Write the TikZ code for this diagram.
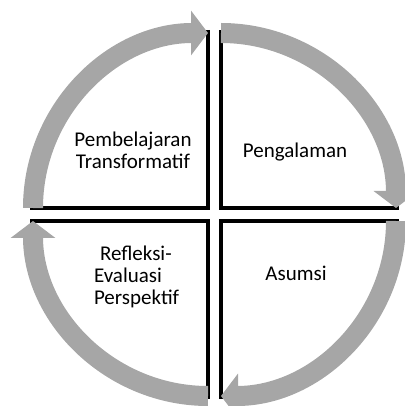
\documentclass[tikz,border=0pt]{standalone}
\usepackage{fontspec}
\setmainfont{Carlito}
\usetikzlibrary{arrows.meta, calc}
\definecolor{flowgray}{HTML}{A6A6A6}
\tikzset{
  quad/.style={line width=4pt, line join=miter, color=black},
  flow/.style={-{Triangle[length=17pt, width=44pt]}, line width=20pt, color=flowgray},
  label/.style={font=\fontsize{21}{22}\selectfont, align=center, anchor=base}
}

\begin{document}
\begin{tikzpicture}[x=1pt, y=1pt]
\useasboundingbox (-214.5,-191.5) rectangle (189.5,214.5);
\coordinate (TR) at (6.5,6.5);
\coordinate (TL) at (-6.5,6.5);
\coordinate (BL) at (-6.5,-6.5);
\coordinate (BR) at (6.5,-6.5);
% black edges of the four quarters
\draw[quad] ($(TR)+(0,178)$) -- (TR) -- ($(TR)+(178,0)$);
\draw[quad] ($(TL)+(0,178)$) -- (TL) -- ($(TL)+(-178,0)$);
\draw[quad] ($(BL)+(0,-178)$) -- (BL) -- ($(BL)+(-178,0)$);
\draw[quad] ($(BR)+(0,-178)$) -- (BR) -- ($(BR)+(178,0)$);
% cycle arrows
\draw[flow] ($(TL)+(180:175)$) arc (180:90:175);
\draw[flow] ($(TR)+(90:175)$) arc (90:0:175);
\draw[flow] ($(BR)+(0:175)$) arc (0:-90:175);
\draw[flow] ($(BL)+(-90:175)$) arc (-90:-180:175);
% labels (base = last line)
\node[label] (pembelajaran) at (-81.5,45.5) {Pembelajaran\\Transformatif};
\node[label] (pengalaman) at (80.5,56.5) {Pengalaman};
\node[label] (asumsi) at (81.5,-65.5) {Asumsi};
\node[label, align=left, anchor=base west] (refleksi) at (-124,-89.5) {\hspace*{6pt}Refleksi-\\Evaluasi\\Perspektif};
\end{tikzpicture}
\end{document}
